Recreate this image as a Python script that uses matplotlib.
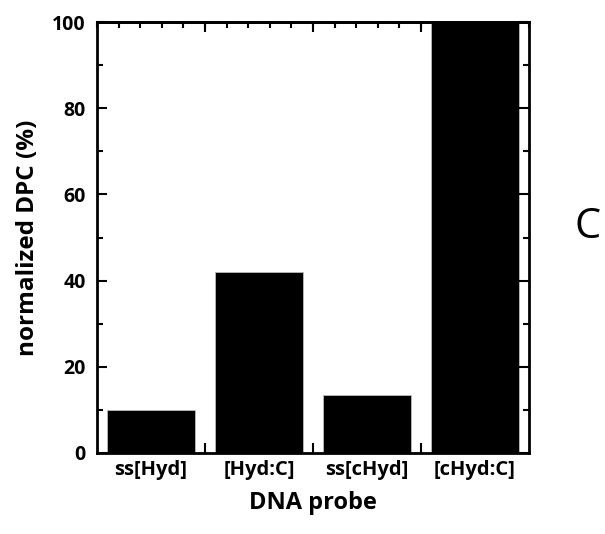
import matplotlib.pyplot as plt
from matplotlib.ticker import MultipleLocator

plt.rcParams['font.family'] = ['Open Sans', 'DejaVu Sans']

probes = ['ss[Hyd]', '[Hyd:C]', 'ss[cHyd]', '[cHyd:C]']
dpc = [10.0, 42.0, 13.5, 100.0]

fig = plt.figure(figsize=(6.05, 5.34), dpi=100)
ax = fig.add_axes([0.1603, 0.1517, 0.714, 0.807])

x = range(len(probes))
ax.bar(x, dpc, width=0.81, color='black', edgecolor='#bbbbbb', linewidth=0.6)

ax.set_xlim(-0.5, 3.5)
ax.set_ylim(0, 100)

# category boundaries as major ticks, labels at centres
ax.set_xticks([0.5, 1.5, 2.5])
ax.set_xticklabels([])
ax.set_xticks(list(x), minor=True)
ax.set_xticklabels(probes, minor=True, fontsize=14.5, fontweight='bold')
ax.tick_params(axis='x', which='minor', length=0, pad=5)
ax.tick_params(axis='x', which='major', direction='in', length=7, width=1.5,
               top=True, bottom=True)

ax.yaxis.set_major_locator(MultipleLocator(20))
ax.yaxis.set_minor_locator(MultipleLocator(10))
ax.tick_params(axis='y', which='both', direction='in', right=True, width=1.5,
               labelsize=14, pad=8)
ax.tick_params(axis='y', which='major', length=7)
ax.tick_params(axis='y', which='minor', length=4)
for lab in ax.get_yticklabels():
    lab.set_fontweight('bold')

# top minor ticks every fifth of a category
top = ax.secondary_xaxis('top')
top.set_xticks([i * 0.2 - 0.5 for i in range(21)])
top.set_xticklabels([])
top.tick_params(direction='in', length=4, width=1.5)
top.spines['top'].set_linewidth(2)

for s in ax.spines.values():
    s.set_linewidth(2)

ax.set_ylabel('normalized DPC (%)', fontsize=17.5, fontweight='bold', labelpad=9)
ax.set_xlabel('DNA probe', fontsize=17, fontweight='bold', labelpad=8)

fig.text(0.972, 0.574, 'C', fontsize=30, ha='center', va='center')

fig.savefig('out.png', dpi=100)
